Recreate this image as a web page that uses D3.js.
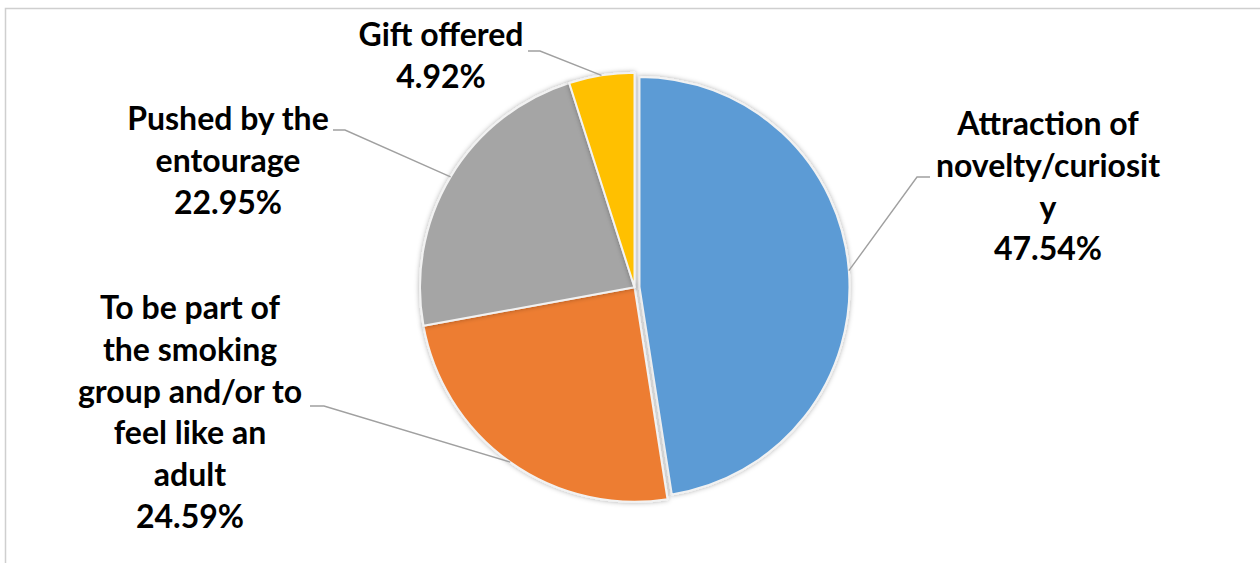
<!DOCTYPE html>
<html>
<head>
<meta charset="utf-8">
<script src="https://cdn.jsdelivr.net/npm/d3@7/dist/d3.min.js"></script>
<style>
  html, body { margin: 0; padding: 0; background: #ffffff; }
  svg { display: block; }
  .lbl { font-family: Lato, "Open Sans", sans-serif; font-weight: 700; fill: #000000; }
</style>
</head>
<body>
<svg id="chart" width="1260" height="563"></svg>
<script>
// Reasons for starting to smoke (share of respondents, %)
const categories = [
  "Attraction of novelty/curiosity",
  "To be part of the smoking group and/or to feel like an adult",
  "Pushed by the entourage",
  "Gift offered"
];
const values = [47.54, 24.59, 22.95, 4.92];
// Wrapped category text as it appears in each label
const labelLines = [
  ["Attraction of", "novelty/curiosit", "y"],
  ["To be part of", "the smoking", "group and/or to", "feel like an", "adult"],
  ["Pushed by the", "entourage"],
  ["Gift offered"]
];
const colors = ["#5B9BD5", "#ED7D31", "#A5A5A5", "#FFC000"];

// Label placement: centre x, first baseline, leader elbow and end
const labelLayout = [
  { x: 1048, y: 135, elbow: [917, 177], end: [930, 177] },
  { x: 190,  y: 319, elbow: [324, 406], end: [310, 406] },
  { x: 228,  y: 130, elbow: [345, 130], end: [333, 130] },
  { x: 441,  y: 46,  elbow: [540, 51],  end: [528, 51] }
];

const W = 1260, H = 563;
const center = [634.5, 287.3];
const radius = 214.5;
const explode = [5, 0, 0, 0];        // offset of each slice along its mid-angle
const radiusAdj = [-4.5, 0, 0, 0];   // exploded slice is drawn slightly smaller
const lineHeight = 41.8;
const fontSize = 32;

const svg = d3.select("#chart");

// outer chart frame
svg.append("rect")
  .attr("x", 5.5).attr("y", 8.5)
  .attr("width", W + 10).attr("height", H + 10)
  .attr("fill", "none")
  .attr("stroke", "#cfcfcf")
  .attr("stroke-width", 1.5);

const defs = svg.append("defs");
const shadow = defs.append("filter").attr("id", "sliceShadow")
  .attr("x", "-20%").attr("y", "-20%").attr("width", "140%").attr("height", "140%");
shadow.append("feDropShadow")
  .attr("dx", 0).attr("dy", 0)
  .attr("stdDeviation", 2.5)
  .attr("flood-color", "#000000")
  .attr("flood-opacity", 0.32);

const pie = d3.pie().sort(null).value(d => d).startAngle(0).endAngle(2 * Math.PI);
const arcsData = pie(values);

const color = d3.scaleOrdinal().domain(d3.range(values.length)).range(colors);

const g = svg.append("g").attr("transform", `translate(${center[0]},${center[1]})`);

function midAngle(d) { return (d.startAngle + d.endAngle) / 2; }
function offsetOf(d, i) {
  const a = midAngle(d);
  return [explode[i] * Math.sin(a), -explode[i] * Math.cos(a)];
}

const slices = g.selectAll("g.slice").data(arcsData).join("g")
  .attr("class", "slice")
  .attr("transform", (d, i) => { const o = offsetOf(d, i); return `translate(${o[0]},${o[1]})`; });

slices.append("path")
  .attr("d", (d, i) => d3.arc().innerRadius(0).outerRadius(radius + radiusAdj[i])(d))
  .attr("fill", (d, i) => color(i))
  .attr("stroke", "#f2f2f2")
  .attr("stroke-width", 2)
  .attr("stroke-linejoin", "round")
  .attr("filter", "url(#sliceShadow)");

// leader lines from slice edge to label
const leaders = svg.append("g");
arcsData.forEach((d, i) => {
  const o = offsetOf(d, i);
  const r = radius + radiusAdj[i];
  const a = midAngle(d);
  const start = [center[0] + o[0] + r * Math.sin(a), center[1] + o[1] - r * Math.cos(a)];
  const L = labelLayout[i];
  leaders.append("path")
    .attr("d", d3.line()([start, L.elbow, L.end]))
    .attr("fill", "none")
    .attr("stroke", "#a0a0a0")
    .attr("stroke-width", 1.4);
});

// data labels: category + percentage
const fmt = v => v.toFixed(2) + "%";
const labels = svg.append("g");
arcsData.forEach((d, i) => {
  const L = labelLayout[i];
  const lines = labelLines[i].concat([fmt(values[i])]);
  const t = labels.append("text")
    .attr("class", "lbl")
    .attr("text-anchor", "middle")
    .attr("font-size", fontSize);
  lines.forEach((s, k) => {
    t.append("tspan").attr("x", L.x).attr("y", L.y + k * lineHeight).text(s);
  });
});
</script>
</body>
</html>
